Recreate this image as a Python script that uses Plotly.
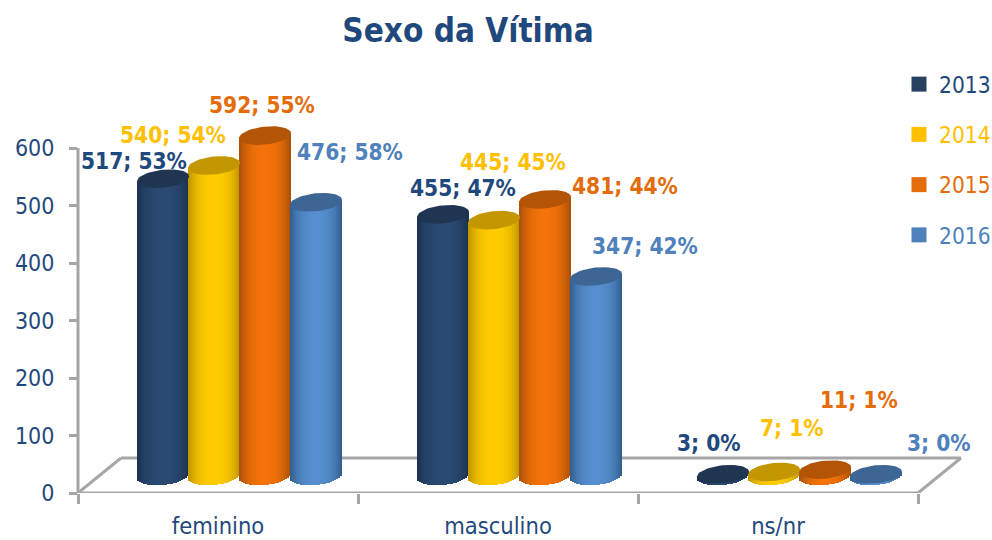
import numpy as np
import plotly.graph_objects as go

categories = ["feminino", "masculino", "ns/nr"]
years = ["2013", "2014", "2015", "2016"]
values = {
    "2013": [517, 455, 3],
    "2014": [540, 445, 7],
    "2015": [592, 481, 11],
    "2016": [476, 347, 3],
}
percents = {
    "2013": [53, 47, 0],
    "2014": [54, 45, 1],
    "2015": [55, 44, 1],
    "2016": [58, 42, 0],
}
edge_colors = {"2013": (26, 48, 76), "2014": (190, 145, 0), "2015": (165, 78, 8), "2016": (48, 92, 140)}
mid_colors = {"2013": (42, 74, 115), "2014": (255, 204, 0), "2015": (243, 114, 9), "2016": (86, 142, 208)}
top_colors = {"2013": "#1F3552", "2014": "#C49700", "2015": "#B45407", "2016": "#3E6694"}
legend_colors = {"2013": "#254061", "2014": "#FFC000", "2015": "#E46C0A", "2016": "#4F81BD"}
text_colors = {"2013": "#1F497D", "2014": "#FFC000", "2015": "#E46C0A", "2016": "#4F81BD"}
label_offsets = {
    "2013": [(-29, -18), (20, -26), (-14, -31)],
    "2014": [(-41, -31), (19, -58), (18, -44)],
    "2015": [(-3, -31), (80, -13), (34, -70)],
    "2016": [(34, -50), (49, -30), (63, -31)],
}

PX_X = 280.0      # pixels per category
PX_Y = 0.575      # pixels per value unit
DX = 21.5 / PX_X  # depth shift of the bars
DY = 17 / PX_Y
BAR_W = 51 / PX_X
A = 26 / PX_X     # ellipse half-width
B = 9 / PX_Y      # ellipse half-height
SHEAR = 2.5 / PX_Y
N = 26
FLOOR_BACK_Y = 35 / PX_Y
FLOOR_BACK_X = 43 / PX_X
FONT = "DejaVu Sans Condensed, DejaVu Sans"
NAVY = "#1F497D"
GRAY = "#A6A6A6"
MARGIN_L, MARGIN_R, MARGIN_T, MARGIN_B = 78, 22, 90, 47
PLOT_W = 992 - MARGIN_L - MARGIN_R
PLOT_H = 540 - MARGIN_T - MARGIN_B

fig = go.Figure()

# legend entries
for yr in years:
    fig.add_trace(go.Scatter(
        x=[None], y=[None], mode="markers", legendgroup=yr,
        name=f'<span style="color:{text_colors[yr]}">{yr}</span>',
        marker=dict(symbol="square", size=15, color=legend_colors[yr]),
    ))

# cylinders: narrow shaded strips, then an ellipse for the top
for s, yr in enumerate(years):
    xs, bases, heights, cols = [], [], [], []
    for c, v in enumerate(values[yr]):
        cx = c + DX + (s - 1.5) * BAR_W
        for i in range(N):
            u = -1 + (2 * i + 1) / N
            arc = np.sqrt(1 - u * u)
            f = 1 - abs(u) ** 2.5
            col = [round(e + (m - e) * f) for e, m in zip(edge_colors[yr], mid_colors[yr])]
            base = DY - B * arc + SHEAR * u
            top = v + DY + SHEAR * u
            xs.append(cx + u * A)
            bases.append(base)
            heights.append(top - base)
            cols.append(f"rgb({col[0]},{col[1]},{col[2]})")
    fig.add_trace(go.Bar(
        x=xs, y=heights, base=bases, width=2.4 * A / N,
        marker=dict(color=cols, line=dict(width=0)),
        showlegend=False, hoverinfo="skip",
    ))
    for c, v in enumerate(values[yr]):
        cx = c + DX + (s - 1.5) * BAR_W
        t = np.linspace(0, 2 * np.pi, 60)
        fig.add_trace(go.Scatter(
            x=cx + A * np.cos(t),
            y=v + DY + B * np.sin(t) + SHEAR * np.cos(t),
            mode="lines", fill="toself", fillcolor=top_colors[yr],
            line=dict(width=0, color=top_colors[yr]),
            showlegend=False, hoverinfo="skip",
        ))
        dx_px, dy_px = label_offsets[yr][c]
        fig.add_annotation(
            x=cx, y=v + DY, xshift=dx_px, yshift=-dy_px, showarrow=False,
            text=f"<b>{v}; {percents[yr][c]}%</b>",
            font=dict(family=FONT, size=22.5, color=text_colors[yr]),
        )

# floor and value axis
floor = [(-0.5, 0), (2.5, 0), (2.5 + FLOOR_BACK_X, FLOOR_BACK_Y),
         (-0.5 + FLOOR_BACK_X, FLOOR_BACK_Y), (-0.5, 0)]
for (x0, y0), (x1, y1) in zip(floor[:-1], floor[1:]):
    fig.add_shape(type="line", x0=x0, y0=y0, x1=x1, y1=y1, layer="below",
                  line=dict(color=GRAY, width=3))
fig.add_shape(type="line", xref="paper", x0=0, x1=0, y0=0, y1=600, layer="below",
              line=dict(color=GRAY, width=3))

fig.update_layout(
    width=992, height=540, autosize=False,
    paper_bgcolor="white", plot_bgcolor="white",
    barmode="overlay", bargap=0,
    margin=dict(l=MARGIN_L, r=MARGIN_R, t=MARGIN_T, b=MARGIN_B, autoexpand=False),
    title=dict(text="<b>Sexo da Vítima</b>", x=468 / 992, xanchor="center", y=1 - 30 / 540, yanchor="middle",
               yref="container", font=dict(family=FONT, size=33, color=NAVY)),
    font=dict(family=FONT, color=NAVY),
    legend=dict(x=(899 - MARGIN_L) / PLOT_W, xanchor="left",
                y=1 - (63 - MARGIN_T) / PLOT_H, yanchor="top",
                font=dict(family=FONT, size=22.5), tracegroupgap=18, itemwidth=30,
                bgcolor="rgba(0,0,0,0)"),
    xaxis=dict(
        range=[-0.5, 2.5 + 52 / PX_X], tickmode="array", tickvals=[0, 1, 2], ticktext=categories,
        ticks="outside", ticklen=12, tickcolor="rgba(0,0,0,0)", tickfont=dict(size=23.5, color=NAVY),
        showgrid=False, zeroline=False, showline=False, automargin=False,
        minor=dict(tickmode="array", tickvals=[-0.5, 0.5, 1.5, 2.5], ticks="outside", ticklen=10,
                   tickcolor=GRAY, tickwidth=3, showgrid=False),
    ),
    yaxis=dict(
        range=[0, PLOT_H / PX_Y], tickmode="array", tickvals=[0, 100, 200, 300, 400, 500, 600],
        ticks="outside", ticklen=8, tickcolor=GRAY, tickwidth=3, ticklabelstandoff=10,
        tickfont=dict(size=23, color=NAVY), showgrid=False, zeroline=False, showline=False, automargin=False,
    ),
)

fig.write_html("out.html", config={"displayModeBar": False},
               post_script="document.body.style.margin='0';document.documentElement.style.overflow='hidden';")
